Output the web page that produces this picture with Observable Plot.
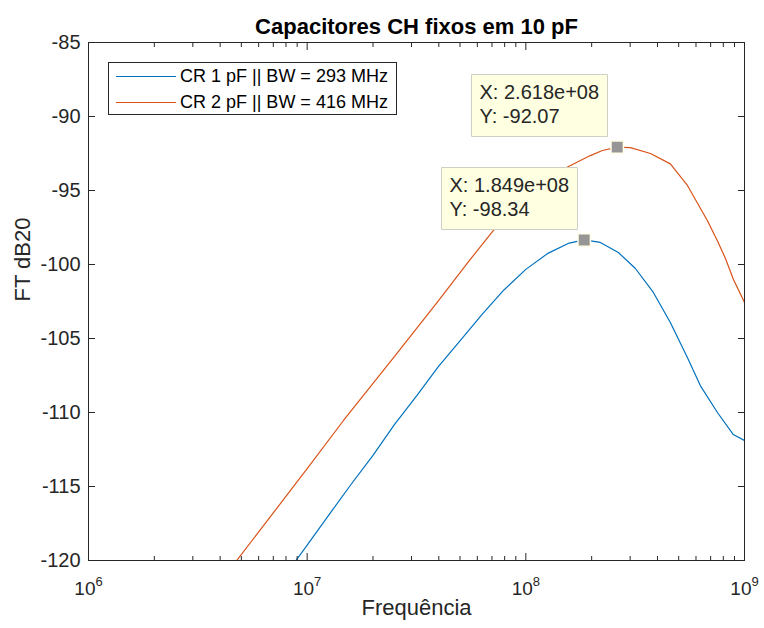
<!DOCTYPE html>
<html><head><meta charset="utf-8">
<script src="https://cdn.jsdelivr.net/npm/d3@7"></script>
<script src="https://cdn.jsdelivr.net/npm/@observablehq/plot@0.6"></script>
<style>
body{margin:0;background:#fff;}
#wrap{position:relative;width:764px;height:628px;font-family:'Liberation Sans',Arial,Helvetica,sans-serif;}
.legend{position:absolute;left:108px;top:62px;width:289px;height:53px;border:1px solid #262626;background:#fff;box-sizing:border-box;font-size:18px;color:#000;}
.sw{position:absolute;left:7px;width:60px;height:0;}
.lab{position:absolute;left:71px;white-space:nowrap;line-height:20px;}
</style></head>
<body><div id="wrap"></div>
<script>
// ---- data ----
const title = "Capacitores CH fixos em 10 pF";
const xLabel = "Frequência";
const yLabel = "FT dB20";
const seriesNames = ["CR 1 pF || BW = 293 MHz", "CR 2 pF || BW = 416 MHz"];
const seriesColors = ["#0072BD", "#D95319"];

const freq1 = [7.94e6, 1.0e7, 1.26e7, 1.58e7, 2.0e7, 2.51e7, 3.16e7, 3.98e7, 5.01e7, 6.31e7, 7.94e7, 1.0e8, 1.26e8, 1.58e8, 1.849e8, 2.19e8, 2.65e8, 3.17e8, 3.83e8, 4.58e8, 5.48e8, 6.28e8, 7.52e8, 8.89e8, 1.0e9];
const ft1   = [-121.0, -118.96, -116.9, -114.9, -112.9, -110.8, -108.9, -106.9, -105.15, -103.37, -101.72, -100.33, -99.25, -98.55, -98.34, -98.51, -99.19, -100.27, -101.89, -103.92, -106.28, -108.18, -110.0, -111.49, -111.89];

const freq2 = [3.98e6, 1.0e7, 1.466e7, 2.51e7, 3.98e7, 5.47e7, 7.11e7, 8.91e7, 1.122e8, 1.413e8, 1.567e8, 1.972e8, 2.239e8, 2.618e8, 3.006e8, 3.715e8, 4.581e8, 5.483e8, 6.761e8, 7.516e8, 8.185e8, 8.892e8, 1.0e9];
const ft2   = [-121.5, -113.8, -110.54, -106.2, -102.45, -99.8, -97.7, -96.1, -94.8, -93.75, -93.38, -92.64, -92.3, -92.07, -92.1, -92.5, -93.2, -94.66, -97.03, -98.4, -99.6, -101.0, -102.57];

const tipX = [1.849e8, 2.618e8];
const tipY = [-98.34, -92.07];
const tipLabels = ["X: 1.849e+08\nY: -98.34", "X: 2.618e+08\nY: -92.07"];
const tipDx = [-7, -10];
const tipDy = [-10, -11];

const xTicks = [1e6, 1e7, 1e8, 1e9];
const xTickLabels = ["10^6", "10^7", "10^8", "10^9"];
const yTicks = [-120, -115, -110, -105, -100, -95, -90, -85];
// ---------------

const minorTicks = [];
for (const d of [1e6, 1e7, 1e8]) for (let k = 2; k <= 9; k++) minorTicks.push(d * k);

const s1 = freq1.map((f, i) => ({f, v: ft1[i]}));
const s2 = freq2.map((f, i) => ({f, v: ft2[i]}));
const tips = tipX.map((f, i) => ({f, v: tipY[i], t: tipLabels[i]}));
const axisColor = "#262626";
const tipStyle = {x: "f", y: "v", title: "t", anchor: "bottom-right", pointerSize: 0, fill: "#ffffe1", stroke: "#cfcfc4", fontSize: 20, lineHeight: 1.2, textPadding: 8, pathFilter: "none"};

const plot = Plot.plot({
  width: 764, height: 628,
  marginTop: 42, marginBottom: 68, marginLeft: 88, marginRight: 20,
  style: {fontFamily: "'Liberation Sans', Arial, Helvetica, sans-serif", fontSize: "20px", color: axisColor, background: "#fff", overflow: "visible"},
  x: {type: "log", domain: [1e6, 1e9], axis: null},
  y: {domain: [-120, -85], axis: null},
  marks: [
    Plot.line(s1, {x: "f", y: "v", stroke: seriesColors[0], strokeWidth: 1.2, clip: true}),
    Plot.line(s2, {x: "f", y: "v", stroke: seriesColors[1], strokeWidth: 1.2, clip: true}),
    Plot.dot(tips, {x: "f", y: "v", symbol: "square", r: 7, fill: "#969696", stroke: "#fffde6", strokeWidth: 1.5}),
    Plot.tip([tips[1]], {...tipStyle, dx: tipDx[1], dy: tipDy[1]}),
    Plot.tip([tips[0]], {...tipStyle, dx: tipDx[0], dy: tipDy[0]}),
    Plot.frame({stroke: axisColor, strokeWidth: 1}),
    Plot.axisX({anchor: "bottom", ticks: xTicks, tickSize: -7, tickPadding: 28, tickFormat: d => xTickLabels[xTicks.indexOf(d)], label: null, fontSize: 19}),
    Plot.axisX({anchor: "bottom", ticks: minorTicks, tickSize: -4, fill: "none", label: null}),
    Plot.axisX({anchor: "top", ticks: xTicks, tickSize: -7, fill: "none", label: null}),
    Plot.axisX({anchor: "top", ticks: minorTicks, tickSize: -4, fill: "none", label: null}),
    Plot.axisY({anchor: "left", ticks: yTicks, tickSize: -7, tickPadding: 15, tickFormat: d => String(d), label: null, fontSize: 20}),
    Plot.axisY({anchor: "right", ticks: yTicks, tickSize: -7, fill: "none", label: null}),
    Plot.text([title], {frameAnchor: "top", dy: -24, fontSize: 22, fontWeight: "bold", fill: "#000"}),
    Plot.text([xLabel], {frameAnchor: "bottom", dy: 54, fontSize: 22, fill: axisColor}),
    Plot.text([yLabel], {frameAnchor: "left", dx: -66, rotate: -90, fontSize: 22, fill: axisColor})
  ]
});

// turn "10^n" tick labels into base + superscript exponent
plot.querySelectorAll("text").forEach(el => {
  const t = el.textContent;
  if (/^10\^\d$/.test(t)) {
    const [base, ex] = t.split("^");
    el.textContent = "";
    const b = document.createElementNS("http://www.w3.org/2000/svg", "tspan");
    b.textContent = base;
    const e = document.createElementNS("http://www.w3.org/2000/svg", "tspan");
    e.textContent = ex;
    e.setAttribute("font-size", "13");
    e.setAttribute("dy", "-9");
    el.appendChild(b);
    el.appendChild(e);
  }
});

const wrap = document.getElementById("wrap");
wrap.appendChild(plot);

const leg = document.createElement("div");
leg.className = "legend";
const rowsY = [13, 39];
seriesNames.forEach((name, i) => {
  const sw = document.createElement("div");
  sw.className = "sw";
  sw.style.top = rowsY[i] + "px";
  sw.style.borderTop = "1.2px solid " + seriesColors[i];
  leg.appendChild(sw);
  const lab = document.createElement("div");
  lab.className = "lab";
  lab.style.top = (rowsY[i] - 10) + "px";
  lab.textContent = name;
  leg.appendChild(lab);
});
wrap.appendChild(leg);
</script>
</body></html>
